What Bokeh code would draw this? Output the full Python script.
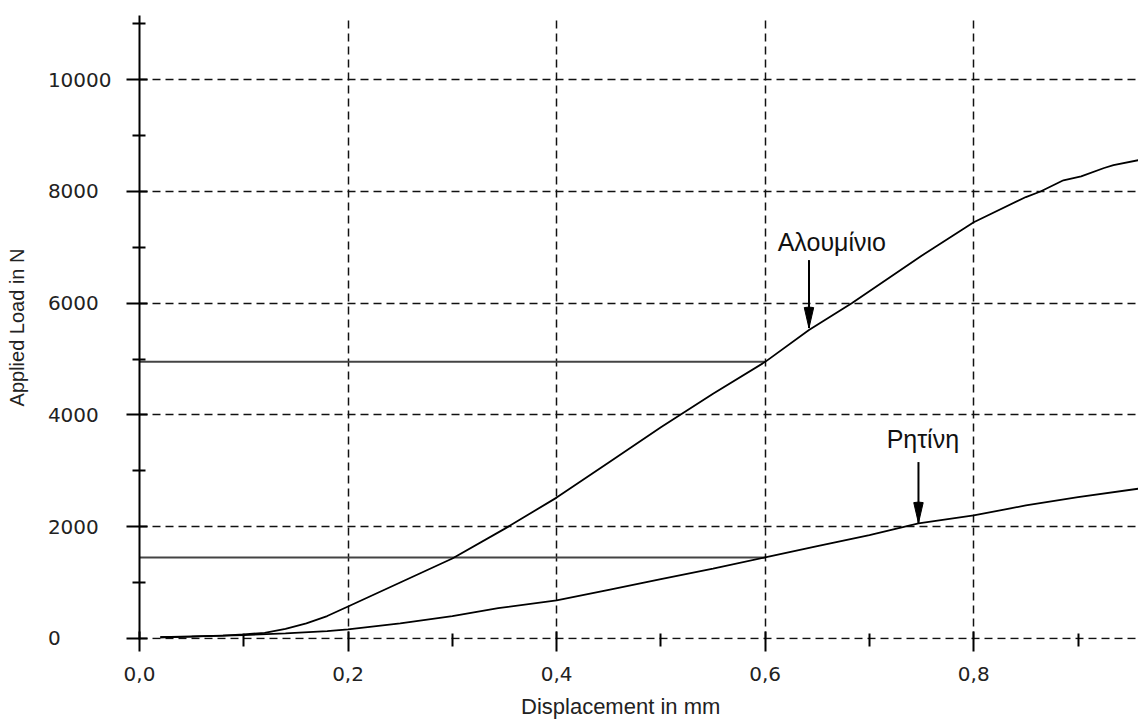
from bokeh.plotting import figure
from bokeh.models import Range1d, FixedTicker
from bokeh.core.properties import value
from bokeh.embed import file_html
from bokeh.resources import INLINE

# ---------------- data ----------------
disp_alu = [0.02, 0.05, 0.08, 0.10, 0.12, 0.14, 0.16, 0.18, 0.20, 0.25, 0.30, 0.35,
            0.40, 0.45, 0.50, 0.55, 0.60, 0.642, 0.683, 0.75, 0.80, 0.85, 0.864,
            0.886, 0.903, 0.925, 0.934, 0.958]
load_alu = [20, 30, 50, 70, 100, 170, 270, 400, 570, 1000, 1430, 1960,
            2520, 3150, 3780, 4380, 4950, 5520, 6000, 6850, 7450, 7900, 8000,
            8200, 8270, 8420, 8470, 8560]

disp_res = [0.02, 0.06, 0.10, 0.14, 0.18, 0.20, 0.25, 0.30, 0.344, 0.40, 0.45,
            0.50, 0.55, 0.60, 0.65, 0.70, 0.747, 0.80, 0.85, 0.90, 0.958]
load_res = [20, 40, 60, 90, 130, 160, 270, 400, 540, 680, 870,
            1060, 1250, 1450, 1650, 1850, 2060, 2200, 2380, 2530, 2680]

# reference levels drawn from the load axis to displacement 0.6
ref_levels = [4950, 1450]
ref_x_start = [0.0, 0.0]
ref_x_end = [0.6, 0.6]

# annotations
ann_text = ["Αλουμίνιο", "Ρητίνη"]
ann_text_x = [0.612, 0.7165]
ann_text_y = [7100, 3568]
arrow_x = [0.642, 0.747]
arrow_top = [6772, 3156]
arrow_tip = [5555, 2064]

# ticks
x_major = [0.0, 0.2, 0.4, 0.6, 0.8]
x_labels = ["0,0", "0,2", "0,4", "0,6", "0,8"]
x_minor = [0.1, 0.3, 0.5, 0.7, 0.9]
y_major = [0, 2000, 4000, 6000, 8000, 10000]
y_labels = ["0", "2000", "4000", "6000", "8000", "10000"]
y_minor = [1000, 3000, 5000, 7000, 9000, 11000]

x_title = "Displacement in mm"
y_title = "Applied Load in N"

# ---------------- figure ----------------
p = figure(width=1138, height=724,
           x_range=Range1d(0, 0.958), y_range=Range1d(-20, 11150),
           output_backend="svg", toolbar_location=None,
           min_border_left=139, min_border_right=0,
           min_border_top=15, min_border_bottom=85)
p.outline_line_color = None
p.background_fill_color = "white"
p.border_fill_color = "white"

# tickers
p.xaxis.ticker = FixedTicker(ticks=x_major, minor_ticks=x_minor)
p.yaxis.ticker = FixedTicker(ticks=y_major, minor_ticks=y_minor)
p.xgrid.ticker = FixedTicker(ticks=x_major)
p.ygrid.ticker = FixedTicker(ticks=y_major)

FS = "\u2007"  # figure space (digit-width padding, keeps labels left-aligned)
pad = max(len(s) for s in y_labels)
p.xaxis.major_label_overrides = {v: s for v, s in zip(x_major, x_labels)}
p.yaxis.major_label_overrides = {v: s + FS * (pad - len(s)) for v, s in zip(y_major, y_labels)}

# grid
p.grid.grid_line_color = "#111111"
p.grid.grid_line_dash = "8 5"
p.grid.grid_line_width = 1.5

# axes common
for ax in (p.xaxis, p.yaxis):
    ax.major_label_text_font = "DejaVu Sans"
    ax.major_label_text_font_size = "20px"
    ax.major_label_text_color = "#222222"
    ax.axis_label_text_font = "Liberation Sans"
    ax.axis_label_text_font_style = "normal"
    ax.axis_label_text_color = "#222222"
    ax.major_tick_line_color = "black"
    ax.minor_tick_line_color = "black"
    ax.major_tick_line_width = 2
    ax.minor_tick_line_width = 2

p.xaxis.axis_label = x_title + FS * 3
p.xaxis.axis_label_text_font_size = "22px"
p.xaxis.axis_line_color = None
p.xaxis.major_tick_in = 8
p.xaxis.major_tick_out = 12
p.xaxis.minor_tick_in = 6
p.xaxis.minor_tick_out = 7
p.xaxis.major_label_standoff = 15
p.xaxis.axis_label_standoff = 10

p.yaxis.axis_label = y_title
p.yaxis.axis_label_text_font_size = "20px"
p.yaxis.axis_line_color = "black"
p.yaxis.axis_line_width = 2
p.yaxis.major_tick_in = 8
p.yaxis.major_tick_out = 13
p.yaxis.minor_tick_in = 6
p.yaxis.minor_tick_out = 7
p.yaxis.major_label_standoff = 15
p.yaxis.axis_label_standoff = 17

# reference levels
p.segment(x0=ref_x_start, y0=ref_levels, x1=ref_x_end, y1=ref_levels,
          line_color="#444444", line_width=2)

# curves
p.line(disp_alu, load_alu, line_color="black", line_width=1.8)
p.line(disp_res, load_res, line_color="black", line_width=1.8)

# arrows
p.segment(x0=arrow_x, y0=arrow_top, x1=arrow_x, y1=arrow_tip,
          line_color="black", line_width=2)
p.wedge(x=arrow_x, y=arrow_tip, radius=21, radius_units="screen",
        start_angle=77, end_angle=103, start_angle_units="deg", end_angle_units="deg",
        fill_color="black", line_color="black")

# annotation labels
p.text(x=ann_text_x, y=ann_text_y, text=ann_text,
       text_font=value("Liberation Sans"), text_font_size=value("25px"),
       text_baseline="middle", text_align="left", text_color="#111111")

open("out.html", "w").write(file_html(p, INLINE))
